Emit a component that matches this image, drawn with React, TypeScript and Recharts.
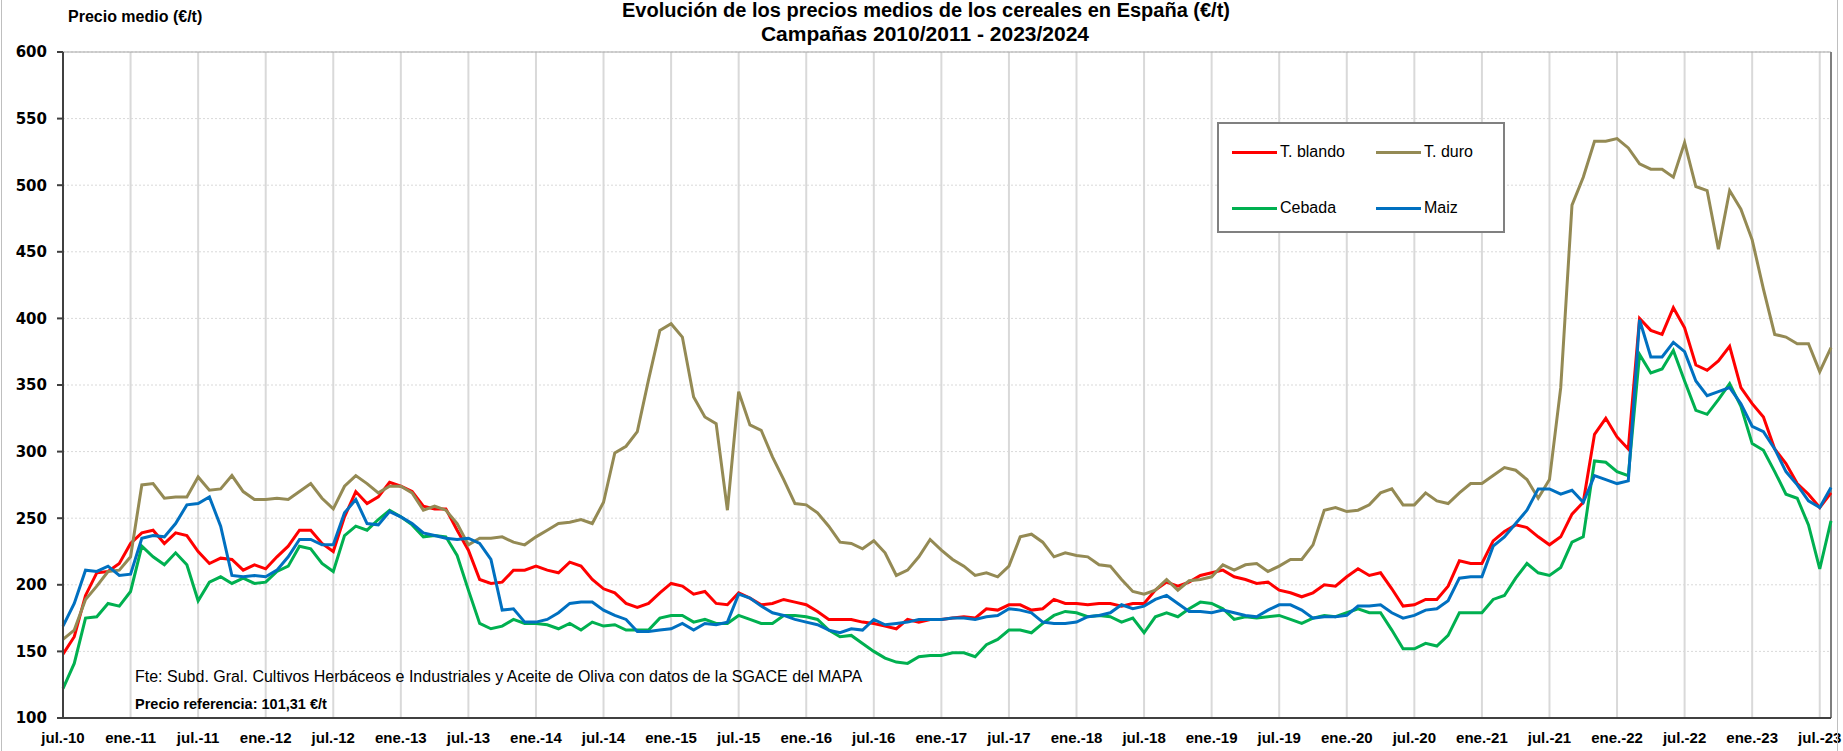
import {
  LineChart,
  Line,
  XAxis,
  YAxis,
  CartesianGrid,
  ReferenceLine,
} from "recharts";

document.body.style.margin = "0";

// one tick every 6 months, starting jul.-10
const tickLabels = [
  "jul.-10", "ene.-11", "jul.-11", "ene.-12", "jul.-12", "ene.-13", "jul.-13",
  "ene.-14", "jul.-14", "ene.-15", "jul.-15", "ene.-16", "jul.-16", "ene.-17",
  "jul.-17", "ene.-18", "jul.-18", "ene.-19", "jul.-19", "ene.-20", "jul.-20",
  "ene.-21", "jul.-21", "ene.-22", "jul.-22", "ene.-23", "jul.-23",
];

// monthly prices (€/t), jul. 2010 -> ago. 2023
const tBlando = [
  148, 161, 192, 209, 210, 216, 231, 239, 241, 231, 239, 237, 225, 216, 220, 219, 211, 215, 212, 221, 229, 241, 241, 231, 225,
  251, 270, 261, 266, 277, 274, 270, 259, 257, 257, 241, 226, 204, 201, 202, 211, 211, 214, 211, 209, 217, 214, 204, 197,
  194, 186, 183, 186, 194, 201, 199, 193, 195, 186, 185, 194, 190, 185, 186, 189, 187, 185, 180, 174, 174, 174, 172, 171,
  169, 167, 174, 172, 174, 174, 175, 176, 175, 182, 181, 185, 185, 181, 182, 189, 186, 186, 185, 186, 186, 184, 186, 186,
  196, 202, 199, 202, 207, 209, 211, 206, 204, 201, 202, 196, 194, 191, 194, 200, 199, 206, 212, 207, 209, 197, 184, 185,
  189, 189, 199, 218, 216, 216, 233, 240, 245, 243, 236, 230, 236, 253, 262, 313, 325, 311, 302, 400, 391, 388, 408, 393,
  365, 361, 368, 379, 348, 336, 326, 302, 291, 276, 268, 258, 269,
];

const tDuro = [
  159, 166, 189, 199, 210, 211, 221, 275, 276, 265, 266, 266, 281, 271, 272, 282, 270, 264, 264, 265, 264, 270, 276, 265, 257,
  274, 282, 276, 269, 274, 274, 269, 256, 259, 256, 246, 230, 235, 235, 236, 232, 230, 236, 241, 246, 247, 249, 246, 262,
  299, 304, 315, 354, 391, 396, 386, 341, 326, 321, 256, 345, 320, 316, 296, 279, 261, 260, 254, 244, 232, 231, 227, 233,
  224, 207, 211, 221, 234, 226, 219, 214, 207, 209, 206, 214, 236, 238, 232, 221, 224, 222, 221, 215, 214, 204, 195, 193,
  196, 204, 196, 203, 204, 206, 215, 211, 215, 216, 210, 214, 219, 219, 230, 256, 258, 255, 256, 260, 269, 272, 260, 260,
  269, 263, 261, 269, 276, 276, 282, 288, 286, 279, 265, 279, 348, 485, 506, 533, 533, 535, 528, 516, 512, 512, 506, 532,
  499, 496, 452, 496, 482, 459, 422, 388, 386, 381, 381, 360, 378,
];

const cebada = [
  122, 141, 175, 176, 186, 184, 195, 229, 221, 215, 224, 215, 188, 202, 206, 201, 205, 201, 202, 210, 214, 229, 227, 216, 210,
  237, 244, 241, 249, 256, 251, 245, 236, 237, 236, 222, 196, 171, 167, 169, 174, 171, 171, 170, 167, 171, 166, 172, 169,
  170, 166, 166, 166, 175, 177, 177, 172, 174, 171, 171, 177, 174, 171, 171, 177, 177, 176, 174, 166, 161, 162, 156, 150,
  145, 142, 141, 146, 147, 147, 149, 149, 146, 155, 159, 166, 166, 164, 171, 177, 180, 179, 176, 177, 176, 172, 175, 164,
  176, 179, 176, 182, 187, 186, 182, 174, 176, 175, 176, 177, 174, 171, 175, 177, 176, 179, 182, 179, 179, 166, 152, 152,
  156, 154, 162, 179, 179, 179, 189, 192, 205, 216, 209, 207, 213, 232, 236, 293, 292, 285, 282, 373, 359, 362, 376, 353,
  331, 328, 339, 351, 334, 306, 301, 285, 268, 265, 245, 212, 248,
];

const maiz = [
  169, 186, 211, 210, 214, 207, 208, 235, 237, 236, 246, 260, 261, 266, 244, 207, 206, 207, 206, 211, 221, 234, 234, 230, 230,
  254, 264, 246, 245, 255, 251, 246, 239, 237, 235, 234, 235, 231, 219, 181, 182, 172, 172, 174, 179, 186, 187, 187, 181,
  177, 174, 165, 165, 166, 167, 171, 166, 171, 170, 172, 193, 190, 184, 179, 177, 174, 172, 170, 166, 164, 167, 166, 174,
  170, 171, 172, 174, 174, 174, 175, 175, 174, 176, 177, 182, 181, 179, 172, 171, 171, 172, 176, 177, 179, 185, 182, 184,
  189, 192, 186, 180, 180, 179, 181, 179, 177, 176, 181, 185, 185, 181, 175, 176, 176, 177, 184, 184, 185, 179, 175, 177,
  181, 182, 188, 205, 206, 206, 229, 236, 246, 256, 272, 272, 268, 271, 262, 282, 279, 276, 278, 399, 371, 371, 382, 375,
  353, 342, 345, 348, 336, 319, 315, 302, 285, 275, 263, 258, 273,
];

const series = [
  { key: "tBlando", name: "T. blando", color: "#ff0000", values: tBlando },
  { key: "tDuro", name: "T. duro", color: "#948a54", values: tDuro },
  { key: "cebada", name: "Cebada", color: "#00b050", values: cebada },
  { key: "maiz", name: "Maiz", color: "#0070c0", values: maiz },
];

const data = tBlando.map((_, i) => {
  const row: any = { m: i };
  series.forEach((s) => (row[s.key] = s.values[i]));
  return row;
});

const lastMonth = data.length - 1;

// 2x2 legend box, same look as the Excel one
function BoxLegend() {
  return (
    <div
      style={{
        position: "absolute",
        left: 1217,
        top: 122,
        width: 284,
        height: 107,
        border: "2px solid #808080",
        background: "#fff",
        display: "grid",
        gridTemplateColumns: "144px 140px",
        gridTemplateRows: "56px 56px",
        fontFamily: "Liberation Sans, Arial, sans-serif",
        fontSize: 16,
      }}
    >
      {series.map((s) => (
        <div
          key={s.key}
          style={{ display: "flex", alignItems: "center", paddingLeft: 13 }}
        >
          <span
            style={{
              display: "inline-block",
              width: 45,
              height: 3,
              background: s.color,
              marginRight: 3,
            }}
          />
          <span>{s.name}</span>
        </div>
      ))}
    </div>
  );
}

export default function App() {
  return (
    <div style={{ position: "relative", width: 1843, height: 751 }}>
      <LineChart
        width={1843}
        height={751}
        data={data}
        margin={{ top: 52, right: 12, left: 13, bottom: 3 }}
      >
        <CartesianGrid
          horizontal={true}
          vertical={false}
          stroke="#d9d9d9"
          strokeDasharray="2 2"
        />
        <CartesianGrid
          horizontal={false}
          vertical={true}
          stroke="#d9d9d9"
          strokeWidth={2}
        />
        <XAxis
          dataKey="m"
          type="number"
          domain={[0, lastMonth]}
          ticks={tickLabels.map((_, i) => i * 6)}
          tickFormatter={(v) => tickLabels[v / 6]}
          interval={0}
          height={30}
          tickLine={false}
          tickSize={6}
          tickMargin={8}
          stroke="#404040"
          strokeWidth={2}
          tick={{
            fill: "#000",
            fontSize: 15,
            fontWeight: 700,
            fontFamily: "Liberation Sans, Arial, sans-serif",
          }}
        />
        <YAxis
          domain={[100, 600]}
          ticks={[100, 150, 200, 250, 300, 350, 400, 450, 500, 550, 600]}
          interval={0}
          width={50}
          tickSize={6}
          tickMargin={10}
          stroke="#404040"
          strokeWidth={2}
          tick={{
            fill: "#000",
            fontSize: 15,
            fontWeight: 700,
            fontFamily: "DejaVu Sans, Verdana, sans-serif",
          }}
        />
        <ReferenceLine y={600} stroke="#a6a6a6" strokeWidth={1} />
        <ReferenceLine x={lastMonth} stroke="#7f7f7f" strokeWidth={2} />
        {series.map((s) => (
          <Line
            key={s.key}
            name={s.name}
            type="linear"
            dataKey={s.key}
            stroke={s.color}
            strokeWidth={3}
            dot={false}
            isAnimationActive={false}
          />
        ))}
      </LineChart>
      <BoxLegend />
      <svg
        width={1843}
        height={751}
        style={{ position: "absolute", left: 0, top: 0, pointerEvents: "none" }}
        fontFamily="Liberation Sans, Arial, sans-serif"
      >
        <line x1={1.5} y1={0} x2={1.5} y2={751} stroke="#bfbfbf" />
        <line x1={1837.5} y1={0} x2={1837.5} y2={751} stroke="#bfbfbf" />
        <text x={926} y={17} textAnchor="middle" fontSize={20} fontWeight={700}>
          Evolución de los precios medios de los cereales en España (€/t)
        </text>
        <text x={925} y={41} textAnchor="middle" fontSize={21} fontWeight={700}>
          Campañas 2010/2011 - 2023/2024
        </text>
        <text x={68} y={22} fontSize={16} fontWeight={700}>
          Precio medio (€/t)
        </text>
        <text x={135} y={682} fontSize={16}>
          Fte: Subd. Gral. Cultivos Herbáceos e Industriales y Aceite de Oliva con datos de la SGACE del MAPA
        </text>
        <text x={135} y={709} fontSize={14.5} fontWeight={700}>
          Precio referencia: 101,31 €/t
        </text>
      </svg>
    </div>
  );
}
